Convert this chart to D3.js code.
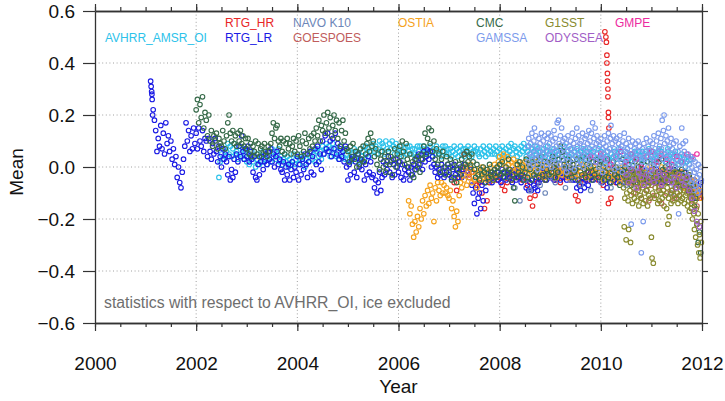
<!DOCTYPE html>
<html>
<head>
<meta charset="utf-8">
<script src="https://cdn.jsdelivr.net/npm/d3@7"></script>
<style>
  body { margin: 0; background: #fff; }
  text { font-family: "Liberation Sans", Arial, Helvetica, sans-serif; }
</style>
</head>
<body>
<div id="chart"></div>
<script>
// ---- data (mean difference vs AVHRR_OI) ----
// each series is sampled on a regular time grid: start year + i * step
const seriesNames = ["AVHRR_AMSR_OI", "RTG_HR", "RTG_LR", "NAVO K10", "GOESPOES",
                     "OSTIA", "CMC", "GAMSSA", "G1SST", "ODYSSEA", "GMPE"];
const seriesColors = ["#2cc2ea", "#e82626", "#1a1ae4", "#6c86b8", "#c05c5c",
                      "#f5a21c", "#366a49", "#7c9bec", "#888a2e", "#a15ec6", "#ec2aa0"];
const seriesStart = [2002.45, 2007.10, 2001.10, 2008.30, 2010.60,
                     2006.20, 2002.00, 2008.55, 2010.45, 2010.50, 2009.80];
const seriesStep = [0.025, 0.05, 0.025, 0.1, 0.05, 0.025, 0.025, 0.0125, 0.0125, 0.05, 0.1];
// painting order (indices into the lists above)
const drawOrder = [0, 1, 2, 3, 4, 5, 6, 10, 7, 8, 9];

// one line per year
const avhrrAmsrMean = [
  -0.04, 0.02, 0.05, 0.03, 0.07, 0.04, 0.06, 0.09, 0.05, 0.08, 0.04, 0.07, 0.09, 0.05, 0.06, 0.03, 0.08, 0.05, 0.04, 0.07, 0.03, 0.06,
  0.02, 0.05, 0.01, 0.04, 0.06, 0.02, 0.04, 0.00, 0.03, 0.05, 0.01, 0.04, 0.02, 0.06, 0.03, 0.05, 0.01, 0.04, 0.06, 0.02, 0.07, 0.04, 0.06, 0.03, 0.05, 0.07, 0.02, 0.04, 0.01, 0.03, 0.05, 0.02, 0.04, 0.00, 0.03, 0.01, 0.02, 0.05, 0.01, 0.03,
  0.04, 0.01, 0.03, 0.05, 0.02, 0.04, 0.00, 0.03, 0.05, 0.02, 0.04, 0.06, 0.03, 0.05, 0.02, 0.06, 0.07, 0.04, 0.06, 0.03, 0.08, 0.05, 0.07, 0.09, 0.06, 0.08, 0.04, 0.07, 0.09, 0.05, 0.07, 0.04, 0.06, 0.03, 0.08, 0.05, 0.04, 0.07, 0.03, 0.05,
  0.03, 0.06, 0.02, 0.05, 0.04, 0.07, 0.03, 0.06, 0.05, 0.02, 0.07, 0.04, 0.06, 0.03, 0.08, 0.05, 0.07, 0.04, 0.06, 0.08, 0.09, 0.06, 0.08, 0.05, 0.07, 0.10, 0.06, 0.09, 0.08, 0.05, 0.10, 0.07, 0.06, 0.09, 0.07, 0.10, 0.08, 0.05, 0.09, 0.06,
  0.07, 0.05, 0.08, 0.06, 0.04, 0.07, 0.05, 0.08, 0.06, 0.08, 0.05, 0.07, 0.05, 0.07, 0.04, 0.08, 0.06, 0.08, 0.05, 0.07, 0.08, 0.05, 0.07, 0.06, 0.05, 0.08, 0.06, 0.04, 0.07, 0.05, 0.08, 0.06, 0.05, 0.07, 0.04, 0.08, 0.06, 0.08, 0.05, 0.07,
  0.05, 0.07, 0.04, 0.06, 0.08, 0.05, 0.07, 0.04, 0.06, 0.08, 0.05, 0.07, 0.04, 0.07, 0.06, 0.08, 0.05, 0.07, 0.04, 0.06, 0.08, 0.06, 0.07, 0.05, 0.04, 0.07, 0.05, 0.08, 0.06, 0.04, 0.07, 0.05, 0.08, 0.06, 0.05, 0.07, 0.05, 0.08, 0.06, 0.04,
  0.07, 0.05, 0.08, 0.06, 0.04, 0.07, 0.05, 0.08, 0.06, 0.09, 0.05, 0.07, 0.08, 0.06, 0.04, 0.07, 0.05, 0.08, 0.06, 0.09, 0.07, 0.04, 0.06, 0.08, 0.05, 0.07, 0.03, 0.06, 0.08, 0.05, 0.07, 0.04, 0.06, 0.03, 0.05, 0.07, 0.04, 0.06, 0.08, 0.05,
  0.06, 0.03, 0.05, 0.07, 0.04, 0.06, 0.03, 0.05, 0.07, 0.04, 0.06, 0.08, 0.05, 0.03, 0.06, 0.04, 0.07, 0.05, 0.03, 0.06, 0.04, 0.07, 0.05, 0.03, 0.06, 0.04, 0.07, 0.05, 0.03, 0.06, 0.04, 0.07, 0.05, 0.02, 0.06, 0.04, 0.03, 0.05, 0.07, 0.04,
  0.06, 0.03, 0.05, 0.02, 0.04, 0.06, 0.03, 0.07, 0.05, 0.02, 0.04, 0.06, 0.03, 0.05, 0.07, 0.04, 0.06, 0.03, 0.05, 0.02, 0.04, 0.07, 0.03, 0.05, 0.02, 0.05, 0.04, 0.06, 0.05, 0.03, 0.06, 0.04, 0.03, 0.06, 0.02, 0.05, 0.06, 0.04, 0.07, 0.03,
  0.04, 0.06, 0.02, 0.05, 0.03, 0.05, 0.07, 0.04, 0.06, 0.03, 0.05, 0.02, 0.04, 0.07, 0.03, 0.05, 0.02, 0.05, 0.04, 0.06, 0.03, 0.01, 0.04, 0.02, 0.05, 0.02, 0.03, 0.00, 0.02, 0.04, 0.01, 0.03
];

const rtgHrMean = [
  -0.06, -0.09, -0.04, -0.01, 0.05, 0.00, -0.03, -0.02, -0.05, -0.07, -0.06, -0.10, -0.16, -0.13, -0.06, -0.04, -0.03, -0.05,
  -0.04, -0.07, -0.09, -0.06, -0.03, -0.05, -0.02, -0.04, -0.03, -0.05, -0.04, -0.07, -0.12, -0.15, -0.11, -0.06, -0.04, -0.03, -0.05, -0.02,
  -0.04, -0.02, -0.05, -0.03, -0.06, -0.02, -0.04, -0.03, -0.05, -0.02, -0.11, -0.13, -0.06, -0.04, -0.03, -0.05, -0.02, -0.04, -0.03, -0.05,
  -0.04, -0.07, -0.03, -0.14, -0.12, -0.05, -0.06, -0.03, -0.05, -0.02, -0.04, -0.06, -0.03, -0.05, -0.02, -0.04, -0.06, -0.03, -0.05, -0.02,
  -0.03, -0.05, -0.02, -0.04, -0.06, -0.03, -0.05, -0.02, -0.04, -0.06, -0.03, -0.05, -0.02, -0.04, -0.06, -0.08, -0.05, -0.10, -0.07, -0.12
];
// early-2010 RTG_HR excursion (irregular times)
const rtgHrSpikeYear = [2010.08, 2010.10, 2010.11, 2010.12, 2010.12, 2010.13, 2010.13, 2010.14, 2010.14, 2010.15, 2010.15, 2010.16];
const rtgHrSpikeMean = [0.52, 0.50, 0.48, 0.43, 0.40, 0.36, 0.33, 0.30, 0.27, 0.21, 0.19, 0.15];

const rtgLrMean = [
  0.33, 0.28, 0.22, 0.18, 0.14, 0.06, 0.11, 0.08, 0.16, 0.07, 0.13, 0.05, 0.17, 0.09, 0.12, 0.06, 0.10, 0.03, 0.07, 0.01, 0.04, -0.04, 0.00, -0.06, -0.08, -0.02, 0.03, 0.08, 0.17, 0.10, 0.14, 0.06, 0.12, 0.07, 0.15, 0.09,
  0.13, 0.07, 0.15, 0.10, 0.08, 0.14, 0.06, 0.11, 0.10, 0.04, 0.11, 0.06, 0.03, 0.09, 0.05, 0.11, 0.06, 0.02, 0.08, 0.04, 0.00, 0.07, 0.03, 0.05, 0.02, -0.03, 0.04, -0.05, -0.01, -0.04, 0.03, -0.02, 0.05, 0.02, 0.08, 0.04, 0.12, 0.06, 0.03, 0.07,
  0.04, 0.08, 0.02, 0.06, 0.03, -0.02, 0.04, -0.04, -0.05, 0.01, -0.03, 0.02, 0.04, -0.01, 0.02, 0.05, 0.01, 0.06, 0.03, 0.07, 0.02, 0.05, 0.00, 0.04, 0.06, 0.01, 0.03, -0.01, -0.02, 0.02, -0.05, 0.00, -0.03, 0.01, -0.05, -0.01, 0.02, -0.04, 0.00, -0.02,
  0.04, -0.05, 0.01, -0.03, 0.03, -0.01, 0.05, 0.01, -0.04, 0.02, 0.06, -0.02, 0.04, -0.03, 0.07, 0.01, 0.08, 0.02, 0.05, -0.01, 0.10, 0.05, 0.12, 0.07, 0.13, 0.06, 0.10, 0.04, 0.11, 0.07, 0.13, 0.05, 0.09, 0.03, 0.07, 0.04, 0.06, 0.02, 0.08, 0.00,
  -0.05, 0.01, -0.03, 0.03, 0.04, -0.02, 0.02, -0.04, 0.05, 0.00, 0.03, -0.01, 0.02, -0.05, 0.01, -0.03, 0.04, -0.02, 0.02, -0.04, -0.03, -0.08, -0.05, -0.10, -0.06, -0.02, -0.09, -0.04, 0.02, -0.03, 0.01, -0.01, 0.04, -0.02, 0.02, -0.04, 0.01, -0.03, 0.03, 0.00,
  -0.02, 0.02, -0.04, 0.01, -0.05, -0.01, -0.03, 0.00, -0.02, -0.05, 0.00, -0.03, 0.01, -0.01, 0.03, 0.00, 0.05, 0.01, 0.03, -0.01, 0.06, 0.02, 0.04, 0.065, 0.03, 0.06, 0.00, 0.04, 0.01, -0.02, 0.00, -0.04, -0.01, -0.03, 0.01, -0.02, -0.04, 0.00, -0.02, 0.01,
  -0.03, 0.00, -0.04, -0.01, 0.01, -0.03, -0.01, -0.04, -0.02, 0.00, -0.04, -0.01, 0.01, -0.03, 0.00, -0.02, -0.04, -0.01, -0.07, -0.10, -0.14, -0.08, -0.18, -0.12, -0.10, -0.16, -0.07, -0.13, -0.06, -0.09, -0.04, -0.02, -0.05, -0.02, -0.06, -0.03, -0.01, -0.04, -0.02, -0.05,
  -0.03, -0.06, -0.01, -0.04, -0.02, -0.05, -0.03, -0.01, -0.04, -0.02, -0.06, -0.03, -0.01, -0.05, -0.02, -0.04, -0.03, -0.06, -0.02, -0.05, -0.05, -0.08, -0.04, -0.09, -0.06, -0.09, -0.05, -0.07, -0.08, -0.04, -0.09, -0.06, -0.05, -0.02, -0.04, -0.01, -0.03, -0.05, -0.02, -0.04,
  -0.01, -0.04, -0.02, -0.05, -0.03, -0.01, -0.04, -0.02, -0.05, -0.02, -0.04, -0.01, -0.03, -0.05, -0.02, -0.04, -0.01, -0.03, -0.05, -0.02, -0.05, -0.08, -0.03, -0.07, -0.09, -0.04, -0.06, -0.08, -0.05, -0.02, -0.07, -0.03, -0.04, -0.02, -0.05, -0.03, -0.01, -0.04, -0.02, -0.05,
  -0.03, -0.06, -0.04, -0.02, -0.05, -0.08, -0.03, -0.06, -0.02, -0.04, -0.01, -0.05, -0.03, -0.06, -0.02, -0.04, -0.05, -0.01, -0.03, -0.06, -0.02, -0.04, -0.05, -0.03, -0.06, -0.02, -0.04, -0.01, -0.03, -0.05, -0.02, -0.06, -0.04, -0.01, -0.05, -0.03, -0.02, -0.06, -0.03, -0.04,
  -0.05, -0.02, -0.04, -0.06, -0.01, -0.03, -0.05, -0.02, -0.04, -0.06, -0.03, -0.01, -0.05, -0.02, -0.06, -0.04, -0.03, -0.05, -0.01, -0.04, -0.06, -0.02, -0.05, -0.03, -0.04, -0.07, -0.02, -0.05, -0.06, -0.09, -0.04, -0.08, -0.07, -0.11, -0.05, -0.09, -0.12, -0.08, -0.10, -0.06
];
// start-of-record RTG_LR excursion (irregular times)
const rtgLrSpikeYear = [2001.11, 2001.12, 2001.13, 2001.14];
const rtgLrSpikeMean = [0.31, 0.29, 0.26, 0.20];

const navoMean = [
  -0.08, -0.13, -0.05, -0.09, -0.03, -0.07, -0.10, -0.04, -0.06, -0.02, -0.08, -0.05, -0.03, -0.07, -0.04, -0.09, -0.02, -0.06, -0.04,
  -0.08, -0.03, -0.05, -0.07, -0.02, -0.06, -0.04, -0.09, -0.03, -0.05, -0.07, -0.04, -0.10, -0.06, -0.08, -0.05, -0.11, -0.09
];

const goesPoesMean = [
  -0.06, -0.10, -0.04, -0.08, -0.12, -0.05, -0.09, -0.13, -0.07, -0.11, -0.04, -0.08, -0.14, -0.06,
  -0.10, -0.05, -0.09, -0.12, -0.07, -0.11, -0.04, -0.08, -0.06, -0.10, -0.13, -0.08, -0.15, -0.11
];

const ostiaMean = [
  -0.13, -0.18, -0.15, -0.22, -0.27, -0.21, -0.25, -0.19, -0.23, -0.16, -0.20, -0.13, -0.18, -0.11, -0.15, -0.09, -0.14, -0.07, -0.12, -0.10, -0.21, -0.08, -0.13, -0.06, -0.09, -0.11, -0.06, -0.10, -0.07, -0.10, -0.08, -0.11,
  -0.12, -0.09, -0.16, -0.13, -0.19, -0.23, -0.17, -0.21, -0.11, -0.06, -0.08, -0.03, -0.05, 0.00, -0.07, -0.02, -0.04, 0.01, -0.06, -0.02, -0.05, -0.01, -0.08, -0.03, -0.02, -0.05, 0.00, -0.04, -0.03, -0.01, -0.05, -0.02, -0.04, 0.00, -0.02, -0.05, 0.01, -0.03, 0.00, 0.02,
  0.04, 0.01, 0.03, 0.05, 0.02, 0.00, 0.04, 0.01, -0.01, 0.02, 0.00, 0.03, -0.02, 0.01, -0.01, 0.02, 0.00, -0.02, 0.01, -0.01, 0.02, -0.01, 0.00, -0.03, 0.01, -0.02, 0.00, -0.03, -0.01, 0.02, -0.02, 0.00, -0.03, 0.01, -0.01, -0.04, 0.00, -0.02, 0.02, -0.01,
  -0.03, 0.00, -0.02, 0.01, -0.01, -0.04, 0.00, -0.02, 0.01, -0.03, -0.01, 0.00, -0.02, 0.01, -0.04, -0.01, 0.00, -0.03, 0.01, -0.02, -0.04, -0.01, -0.03, 0.00, -0.02, 0.01, -0.03, -0.01, 0.00, -0.04, -0.02, 0.01, -0.03, -0.01, 0.00, -0.02, -0.01, -0.04, -0.02, 0.00,
  -0.03, -0.01, -0.05, -0.02, 0.00, -0.03, -0.01, -0.04, -0.02, -0.05, 0.00, -0.03, -0.04, -0.01, -0.03, -0.06, -0.02, 0.00, -0.04, -0.01, -0.05, -0.02, -0.03, -0.06, -0.01, -0.04, -0.02, -0.05, -0.03, 0.00, -0.04, -0.02, -0.06, -0.03, -0.01, -0.04, -0.02, -0.05, -0.03, 0.00,
  -0.04, -0.01, -0.05, -0.02, -0.03, -0.06, -0.02, -0.04, 0.00, -0.03, -0.05, -0.01, -0.04, -0.02, -0.06, -0.03, -0.01, -0.05, -0.03, -0.02, -0.06, -0.03, -0.04, -0.07, -0.02, -0.05, -0.08, -0.04, -0.06, -0.03, -0.09, -0.05, -0.07, -0.10, -0.05, -0.08, -0.11, -0.06, -0.09, -0.12
];

const cmcMean = [
  0.22, 0.26, 0.17, 0.24, 0.19, 0.27, 0.15, 0.21, 0.18, 0.12, 0.20, 0.10, 0.14, 0.08, 0.12, 0.10, 0.13, 0.07, 0.11, 0.09, 0.08, 0.14, 0.10, 0.07, 0.12, 0.17, 0.20, 0.13, 0.10, 0.14, 0.09, 0.12, 0.08, 0.13, 0.10, 0.14, 0.09, 0.12, 0.08, 0.11,
  0.07, 0.11, 0.05, 0.09, 0.04, 0.08, 0.06, 0.10, 0.05, 0.09, 0.04, 0.07, 0.08, 0.05, 0.09, 0.06, 0.04, 0.08, 0.06, 0.09, 0.13, 0.17, 0.11, 0.15, 0.16, 0.10, 0.08, 0.11, 0.06, 0.10, 0.05, 0.09, 0.11, 0.07, 0.09, 0.05, 0.08, 0.11, 0.06, 0.10,
  0.05, 0.12, 0.08, 0.04, 0.10, 0.06, 0.13, 0.09, 0.05, 0.11, 0.07, 0.12, 0.08, 0.13, 0.10, 0.15, 0.12, 0.18, 0.10, 0.16, 0.14, 0.20, 0.13, 0.17, 0.21, 0.15, 0.19, 0.12, 0.16, 0.20, 0.14, 0.18, 0.11, 0.17, 0.08, 0.14, 0.18, 0.10, 0.13, 0.07,
  0.06, 0.02, 0.08, 0.04, 0.09, 0.03, 0.06, 0.00, 0.05, 0.01, 0.07, 0.03, 0.08, 0.02, 0.05, 0.09, 0.11, 0.06, 0.13, 0.08, 0.10, 0.04, 0.07, 0.01, 0.05, -0.01, 0.03, 0.06, 0.00, 0.04, -0.02, 0.02, 0.06, 0.01, 0.04, -0.03, 0.03, 0.07, 0.00, 0.05,
  0.02, 0.08, 0.04, 0.10, 0.06, 0.01, 0.09, 0.03, 0.00, 0.05, -0.03, 0.02, -0.04, 0.03, -0.01, 0.04, 0.01, -0.02, 0.05, 0.03, 0.08, 0.13, 0.05, 0.11, 0.15, 0.09, 0.14, 0.06, 0.10, 0.03, 0.07, 0.01, 0.05, -0.02, 0.03, 0.06, 0.00, -0.03, 0.04, 0.01,
  -0.02, 0.03, -0.05, 0.00, -0.04, 0.02, -0.06, -0.01, 0.01, -0.03, 0.03, 0.00, 0.05, 0.01, 0.06, 0.02, 0.04, 0.00, 0.05, 0.02, -0.01, -0.04, 0.01, -0.03, -0.05, -0.01, -0.03, 0.00, -0.02, -0.06, -0.01, -0.04, 0.01, -0.03, -0.02, -0.05, -0.01, -0.04, 0.00, -0.02,
  0.01, -0.03, 0.02, -0.02, -0.04, 0.00, -0.02, 0.03, -0.01, -0.05, -0.03, -0.08, -0.13, -0.04, 0.01, -0.02, 0.02, -0.03, 0.00, -0.05, -0.02, 0.03, -0.04, 0.01, -0.01, -0.05, 0.02, -0.03, 0.03, -0.02, 0.01, -0.04, 0.00, 0.04, -0.03, 0.02, -0.05, -0.01, 0.02, -0.03,
  0.02, -0.02, 0.04, 0.00, -0.04, 0.01, -0.02, 0.03, 0.08, 0.04, 0.06, 0.01, 0.00, -0.03, 0.03, -0.01, 0.02, -0.04, 0.01, -0.02, -0.01, 0.03, -0.05, 0.00, 0.02, -0.03, 0.04, -0.01, -0.04, 0.01, -0.02, 0.03, 0.00, -0.05, 0.02, -0.03, -0.01, 0.03, -0.04, 0.01,
  0.02, -0.03, 0.00, -0.05, -0.02, 0.03, -0.04, 0.01, -0.06, -0.01, 0.02, -0.03, 0.00, -0.04, -0.02, -0.07, -0.01, 0.03, -0.03, 0.00, -0.05, -0.02, 0.01, -0.04, -0.07, -0.01, -0.03, 0.02, -0.04, -0.06, 0.00, -0.02, 0.01, -0.03, -0.05, -0.01, -0.04, 0.02, -0.02, -0.06,
  -0.01, -0.04, 0.01, -0.03, -0.06, -0.02, 0.02, -0.04, 0.03, -0.01, -0.05, 0.00, -0.03, -0.06, 0.01, -0.02, -0.05, -0.01, -0.04, 0.00, -0.02, -0.06, -0.03, -0.07, -0.01, -0.04, -0.06, -0.02, -0.05, -0.08, -0.03, -0.06, -0.10, -0.07, -0.15, -0.12, -0.22, -0.29, -0.25, -0.33
];

// one line per tenth of a year
const gamssaMean = [
  0.08, 0.02, 0.11, 0.05,
  0.00, 0.09, 0.04, 0.13, 0.07, 0.01, 0.10, 0.15,
  0.05, 0.12, 0.03, 0.08, -0.01, 0.06, 0.11, 0.02,
  0.09, 0.04, 0.13, 0.07, 0.00, 0.10, 0.05, 0.12,
  0.03, 0.08, 0.01, 0.11, 0.06, 0.13, 0.02, 0.09,
  0.05, 0.12, 0.00, 0.07, 0.10, 0.03, 0.14, 0.06,
  0.11, 0.02, 0.08, 0.17, 0.05, 0.18, 0.09, 0.01,
  0.12, 0.06, 0.15, 0.03, 0.10, 0.07, 0.00, 0.11,
  0.04, 0.09, -0.02, 0.06, 0.12, 0.02, 0.08, 0.05,
  0.10, 0.00, 0.07, 0.13, 0.03, 0.09, -0.01, 0.06,
  0.11, 0.04, 0.15, 0.08, 0.01, 0.12, 0.05, 0.09,
  0.02, 0.10, 0.06, 0.13, 0.00, 0.08, 0.04, 0.11,
  0.07, 0.12, 0.03, 0.09, 0.05, 0.14, 0.01, 0.10,
  0.06, 0.13, 0.08, 0.17, 0.04, 0.11, 0.07, 0.15,
  0.02, 0.09, 0.12, 0.05, 0.10, 0.00, 0.08, 0.03,
  0.11, 0.04, 0.07, -0.02, 0.09, 0.05, 0.12, 0.01,
  0.08, 0.03, 0.10, 0.06, 0.13, 0.00, 0.07, 0.11,
  0.16, 0.05, 0.09, 0.02, 0.12, 0.07, -0.01, 0.10,
  0.04, 0.11, 0.06, 0.00, 0.09, 0.03, 0.12, 0.07,
  0.02, 0.08, -0.02, 0.10, 0.05, 0.13, 0.01, 0.06,
  0.09, 0.03, 0.07, -0.03, 0.11, 0.04, 0.00, 0.08,
  -0.22, 0.05, 0.10, 0.01, -0.04, 0.07, 0.03, 0.09,
  0.00, 0.06, -0.02, 0.10, 0.04, 0.08, -0.03, 0.05,
  -0.33, 0.02, 0.07, -0.21, 0.09, 0.03, -0.01, 0.06,
  0.11, 0.04, 0.00, 0.08, -0.03, 0.06, 0.10, 0.02,
  0.05, -0.02, 0.09, 0.03, 0.12, 0.00, 0.07, 0.04,
  0.10, 0.01, 0.06, 0.13, -0.03, 0.08, 0.04, 0.11,
  0.07, 0.18, 0.03, 0.14, 0.20, 0.09, 0.05, 0.12,
  0.02, 0.10, 0.06, 0.15, 0.00, 0.08, 0.04, 0.11,
  -0.04, 0.07, 0.02, 0.09, -0.07, 0.05, 0.00, 0.10,
  -0.12, 0.03, 0.06, -0.18, 0.01, 0.08, -0.05, 0.04,
  0.15, 0.02, 0.09, -0.03, 0.06, 0.00, 0.10, -0.06,
  0.03, -0.04, 0.05, -0.08, 0.01, -0.02, 0.04, -0.06,
  0.00, -0.05, 0.03, -0.09, -0.02, 0.02, -0.07, -0.01,
  -0.04, -0.10, 0.01, -0.06, -0.03, -0.08, 0.00, -0.05
];

const g1sstMean = [
  -0.08, -0.23, -0.12, -0.04,
  -0.28, -0.10, -0.06, -0.13, -0.24, -0.03, -0.09, -0.29,
  -0.11, -0.05, -0.14, -0.02, -0.08, -0.12, -0.04, -0.10,
  -0.06, -0.13, -0.03, -0.09, -0.15, -0.05, -0.11, -0.07,
  -0.12, -0.02, -0.08, -0.14, -0.04, -0.10, -0.06, -0.13,
  -0.03, -0.09, -0.15, -0.07, -0.11, -0.04, -0.12, -0.06,
  -0.27, -0.35, -0.10, -0.37, -0.05, -0.12, -0.08, -0.03,
  -0.11, -0.06, -0.14, -0.02, -0.09, -0.13, -0.05, -0.10,
  -0.07, -0.12, -0.03, -0.09, -0.15, -0.06, -0.11, -0.04,
  -0.16, -0.08, -0.22, -0.12, -0.19, -0.05, -0.10, -0.14,
  -0.03, -0.09, -0.13, -0.06, -0.11, -0.02, -0.08, -0.12,
  -0.05, -0.10, -0.14, -0.07, -0.03, -0.11, -0.09, -0.13,
  -0.06, -0.12, -0.04, -0.09, -0.14, -0.07, -0.11, -0.05,
  -0.10, -0.15, -0.08, -0.13, -0.17, -0.09, -0.12, -0.16,
  -0.14, -0.20, -0.11, -0.18, -0.24, -0.13, -0.27, -0.16,
  -0.22, -0.30, -0.18, -0.33, -0.26, -0.35, -0.21, -0.29
];

const odysseaMean = [
  -0.03, -0.06, -0.01, -0.05, -0.08, -0.02, -0.04, -0.07, -0.03, -0.05, -0.01, -0.06, -0.04, -0.02, -0.07,
  -0.03, -0.05, -0.01, -0.06, -0.04, -0.08, -0.03, -0.05, -0.07, -0.04, -0.09, -0.12, -0.17, -0.21, -0.23
];

const gmpeMean = [
  0.04, 0.02, 0.05, 0.03, 0.01, 0.04, 0.06, 0.02, 0.05, 0.03, 0.00,
  0.04, 0.06, 0.02, 0.05, 0.03, 0.01, 0.04, 0.02, 0.05, 0.04, 0.05
];

const seriesValues = [avhrrAmsrMean, rtgHrMean, rtgLrMean, navoMean, goesPoesMean,
                      ostiaMean, cmcMean, gamssaMean, g1sstMean, odysseaMean, gmpeMean];

const yearTicks = [2000, 2002, 2004, 2006, 2008, 2010, 2012];
const meanTicks = [-0.6, -0.4, -0.2, 0.0, 0.2, 0.4, 0.6];

// ---- layout ----
const W = 725, H = 401;
const margin = { top: 11, right: 23, bottom: 78, left: 95 };
const width = W - margin.left - margin.right;
const height = H - margin.top - margin.bottom;

const svgRoot = d3.select("#chart").append("svg")
    .attr("width", W)
    .attr("height", H);

const svg = svgRoot.append("g")
    .attr("transform", `translate(${margin.left},${margin.top})`);

const x = d3.scaleLinear().domain([2000, 2012]).range([0, width]);
const y = d3.scaleLinear().domain([-0.6, 0.6]).range([height, 0]);

// dotted grid
svg.append("g").selectAll("line")
    .data(yearTicks.slice(1, -1))
    .enter().append("line")
    .attr("x1", d => x(d)).attr("x2", d => x(d))
    .attr("y1", 0).attr("y2", height)
    .attr("stroke", "#a0a0a0").attr("stroke-width", 1)
    .attr("stroke-dasharray", "1,2.6");

svg.append("g").selectAll("line")
    .data(meanTicks.slice(1, -1))
    .enter().append("line")
    .attr("x1", 0).attr("x2", width)
    .attr("y1", d => y(d)).attr("y2", d => y(d))
    .attr("stroke", "#a0a0a0").attr("stroke-width", 1)
    .attr("stroke-dasharray", "1,2.6");

// points
const plot = svg.append("g");
drawOrder.forEach(k => {
    const name = seriesNames[k];
    const pts = seriesValues[k].map((v, i) => ({ t: seriesStart[k] + i * seriesStep[k], v }));
    if (name === "RTG_HR") rtgHrSpikeYear.forEach((t, i) => pts.push({ t, v: rtgHrSpikeMean[i] }));
    if (name === "RTG_LR") rtgLrSpikeYear.forEach((t, i) => pts.push({ t, v: rtgLrSpikeMean[i] }));
    plot.append("g")
        .attr("class", "series")
        .selectAll("circle")
        .data(pts)
        .enter().append("circle")
        .attr("cx", d => x(d.t))
        .attr("cy", d => y(d.v))
        .attr("r", 2.3)
        .attr("fill", "none")
        .attr("stroke", seriesColors[k])
        .attr("stroke-width", 1.1);
});

// axes
const axisColor = "#333";
function styleAxis(g) {
    g.select(".domain").attr("stroke", axisColor).attr("stroke-width", 1.3);
    g.selectAll(".tick line").attr("stroke", axisColor).attr("stroke-width", 1.2);
    g.selectAll("text").attr("fill", "#111").style("font-size", "19px");
}

const minorYears = d3.range(2000, 2012.01, 0.5);

svg.append("g")
    .attr("transform", `translate(0,${height})`)
    .call(d3.axisBottom(x).tickValues(minorYears).tickSize(4).tickSizeOuter(0).tickFormat(""))
    .call(styleAxis);
const xAxisG = svg.append("g")
    .attr("transform", `translate(0,${height})`)
    .call(d3.axisBottom(x).tickValues(yearTicks).tickSize(8).tickSizeOuter(0).tickFormat(d3.format("d")))
    .call(styleAxis);
xAxisG.selectAll("text").attr("y", 47).attr("dy", 0);

svg.append("g")
    .call(d3.axisTop(x).tickValues(minorYears).tickSize(4).tickSizeOuter(0).tickFormat(""))
    .call(styleAxis);
svg.append("g")
    .call(d3.axisTop(x).tickValues(yearTicks).tickSize(7).tickSizeOuter(0).tickFormat(""))
    .call(styleAxis);

const yAxisG = svg.append("g")
    .call(d3.axisLeft(y).tickValues(meanTicks).tickSize(12).tickSizeOuter(0).tickFormat(d3.format(".1f")))
    .call(styleAxis);
yAxisG.selectAll("text").attr("x", -20);

svg.append("g")
    .attr("transform", `translate(${width},0)`)
    .call(d3.axisRight(y).tickValues(meanTicks).tickSize(6).tickSizeOuter(0).tickFormat(""))
    .call(styleAxis);

// axis titles
svgRoot.append("text")
    .attr("x", margin.left + width / 2)
    .attr("y", 393)
    .attr("text-anchor", "middle")
    .style("font-size", "19px")
    .attr("fill", "#111")
    .text("Year");

svgRoot.append("text")
    .attr("transform", "translate(23,172) rotate(-90)")
    .attr("text-anchor", "middle")
    .style("font-size", "19px")
    .attr("fill", "#111")
    .text("Mean");

// legend: names written in the colour of their series, two rows
const legendX = [105, 225, 225, 293, 293, 398, 476, 476, 545, 545, 615];
const legendRow = [1, 0, 1, 0, 1, 0, 0, 1, 0, 1, 0];
svgRoot.append("g").selectAll("text")
    .data(seriesNames)
    .enter().append("text")
    .attr("x", (d, i) => legendX[i])
    .attr("y", (d, i) => 27 + legendRow[i] * 15)
    .attr("fill", (d, i) => seriesColors[i])
    .style("font-size", "12px")
    .text(d => d);

// note
svgRoot.append("text")
    .attr("x", 104)
    .attr("y", 308)
    .attr("fill", "#6e6e6e")
    .style("font-size", "15.8px")
    .text("statistics with respect to AVHRR_OI, ice excluded");
</script>
</body>
</html>
